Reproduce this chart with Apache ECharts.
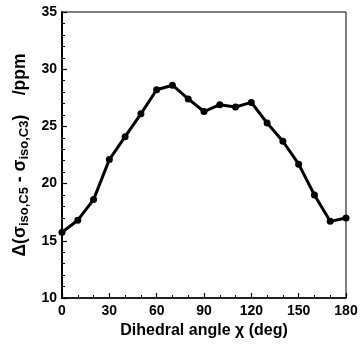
<!DOCTYPE html>
<html>
<head>
<meta charset="utf-8">
<script src="https://cdn.jsdelivr.net/npm/echarts@6/dist/echarts.min.js"></script>
<style>
    html, body { margin: 0; padding: 0; background: #fff; }
    #chart { width: 363px; height: 345px; }
</style>
</head>
<body>
<div id="chart"></div>
<script>
// dihedral angle (deg) and shielding difference (ppm)
var angles = [0, 10, 20, 30, 40, 50, 60, 70, 80, 90, 100, 110, 120, 130, 140, 150, 160, 170, 180];
var deltaShield = [15.75, 16.8, 18.6, 22.1, 24.1, 26.1, 28.2, 28.6, 27.4, 26.3, 26.9, 26.7, 27.1, 25.3, 23.7, 21.7, 19.0, 16.7, 17.0];
var xTicks = [0, 30, 60, 90, 120, 150, 180];
var yTicks = [10, 15, 20, 25, 30, 35];

var font = "Liberation Sans, Arial, sans-serif";
var chart = echarts.init(document.getElementById("chart"));

var data = [];
angles.forEach(function (a, i) {
    data.push([a, deltaShield[i]]);
});

var option = {
    backgroundColor: "#fff",
    animation: false,
    grid: {
        left: 62,
        right: 17,
        top: 12,
        bottom: 47,
        containLabel: false,
        outerBoundsMode: "none",
        show: true,
        borderColor: "#000",
        borderWidth: 1,
        backgroundColor: "transparent"
    },
    xAxis: {
        type: "value",
        min: xTicks[0],
        max: xTicks[xTicks.length - 1],
        interval: 30,
        name: "Dihedral angle \u03c7 (deg)",
        nameLocation: "middle",
        nameGap: 25,
        nameTextStyle: { fontFamily: font, fontWeight: "bold", fontSize: 16, color: "#000" },
        axisLine: { lineStyle: { color: "#000", width: 1.5 } },
        axisTick: { inside: true, length: 5, lineStyle: { color: "#000", width: 1.2 } },
        minorTick: { show: true, splitNumber: 3, length: 3, lineStyle: { color: "#000", width: 1 } },
        splitLine: { show: false },
        axisLabel: { fontFamily: font, fontWeight: "bold", fontSize: 14, color: "#000", margin: 6 }
    },
    yAxis: {
        type: "value",
        min: yTicks[0],
        max: yTicks[yTicks.length - 1],
        interval: 5,
        name: "{a|\u0394(\u03c3}{s|iso,C5}{a| - \u03c3}{s|iso,C3}{a|)    /ppm}",
        nameLocation: "middle",
        nameRotate: 90,
        nameGap: 25,
        nameTextStyle: {
            color: "#000",
            rich: {
                a: { fontFamily: font, fontWeight: "bold", fontSize: 17.5, color: "#000", lineHeight: 20 },
                s: { fontFamily: font, fontWeight: "bold", fontSize: 13, color: "#000", lineHeight: 12, verticalAlign: "bottom" }
            }
        },
        axisLine: { lineStyle: { color: "#000", width: 2 } },
        axisTick: { inside: true, length: 5, lineStyle: { color: "#000", width: 1.2 } },
        minorTick: { show: true, splitNumber: 5, length: 3, lineStyle: { color: "#000", width: 1 } },
        splitLine: { show: false },
        axisLabel: { fontFamily: font, fontWeight: "bold", fontSize: 14, color: "#000", margin: 5 }
    },
    series: [
        {
            type: "line",
            data: data,
            symbol: "circle",
            symbolSize: 7,
            lineStyle: { color: "#000", width: 3 },
            itemStyle: { color: "#000" }
        }
    ]
};
chart.setOption(option);
</script>
</body>
</html>
